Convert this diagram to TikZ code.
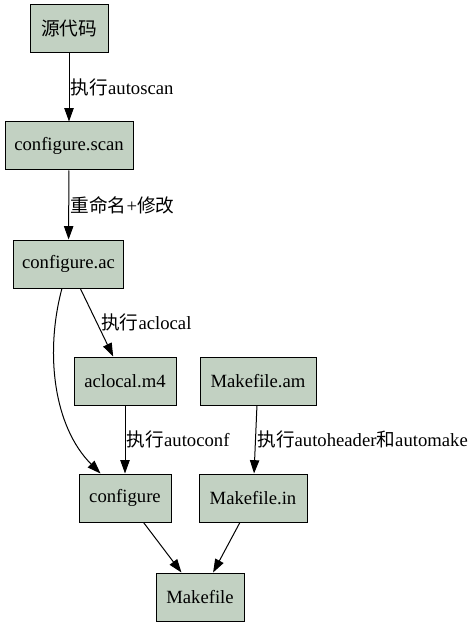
\documentclass[tikz,border=0pt]{standalone}
\usepackage{fontspec}
\setmainfont{Liberation Serif}
\newfontfamily\cjk{Noto Sans CJK SC}
\usetikzlibrary{arrows.meta}
\definecolor{fileGreen}{RGB}{194,209,194}

\begin{document}
\begin{tikzpicture}
  [x=0.75pt,y=-0.75pt,
   font=\fontsize{14pt}{16pt}\selectfont,
   fileN/.style={rectangle,draw,fill=fileGreen,line width=0.75pt,minimum height=36pt,inner sep=0pt},
   edge/.style={line width=0.75pt,-{Triangle[length=10pt,width=7pt]}},
   lbl/.style={anchor=west,inner sep=1pt}]

  \useasboundingbox (0,0) rectangle (469,627);

  \node[fileN,minimum width=58.5pt] (src)  at (69,29)    {{\cjk 源代码}};
  \node[fileN,minimum width=96pt]   (scan) at (69,146)   {configure.scan};
  \node[fileN,minimum width=83pt]   (ac)   at (68.5,264) {configure.ac};
  \node[fileN,minimum width=76.5pt] (m4)   at (125,381)  {aclocal.m4};
  \node[fileN,minimum width=87pt]   (am)   at (258,381)  {Makefile.am};
  \node[fileN,minimum width=69pt]   (conf) at (125,498)  {configure};
  \node[fileN,minimum width=81pt]   (in)   at (253,498)  {Makefile.in};
  \node[fileN,minimum width=66pt]   (mk)   at (200,597)  {Makefile};

  \draw [edge] (src) -- node[lbl] {{\cjk 执行}autoscan} (scan);
  \draw [edge] (scan) -- node[lbl] {{\cjk 重命名}+{\cjk 修改}} (ac);
  \draw [edge] (ac) -- node[lbl,inner sep=3pt] {{\cjk 执行}aclocal} (m4);
  \draw [edge] (ac) to[out=-105,in=135,looseness=0.9] (conf);
  \draw [edge] (m4) -- node[lbl] {{\cjk 执行}autoconf} (conf);
  \draw [edge] (am) -- node[lbl] {{\cjk 执行}autoheader{\cjk 和}automake} (in);
  \draw [edge] (conf) -- (mk);
  \draw [edge] (in) -- (mk);
\end{tikzpicture}
\end{document}
